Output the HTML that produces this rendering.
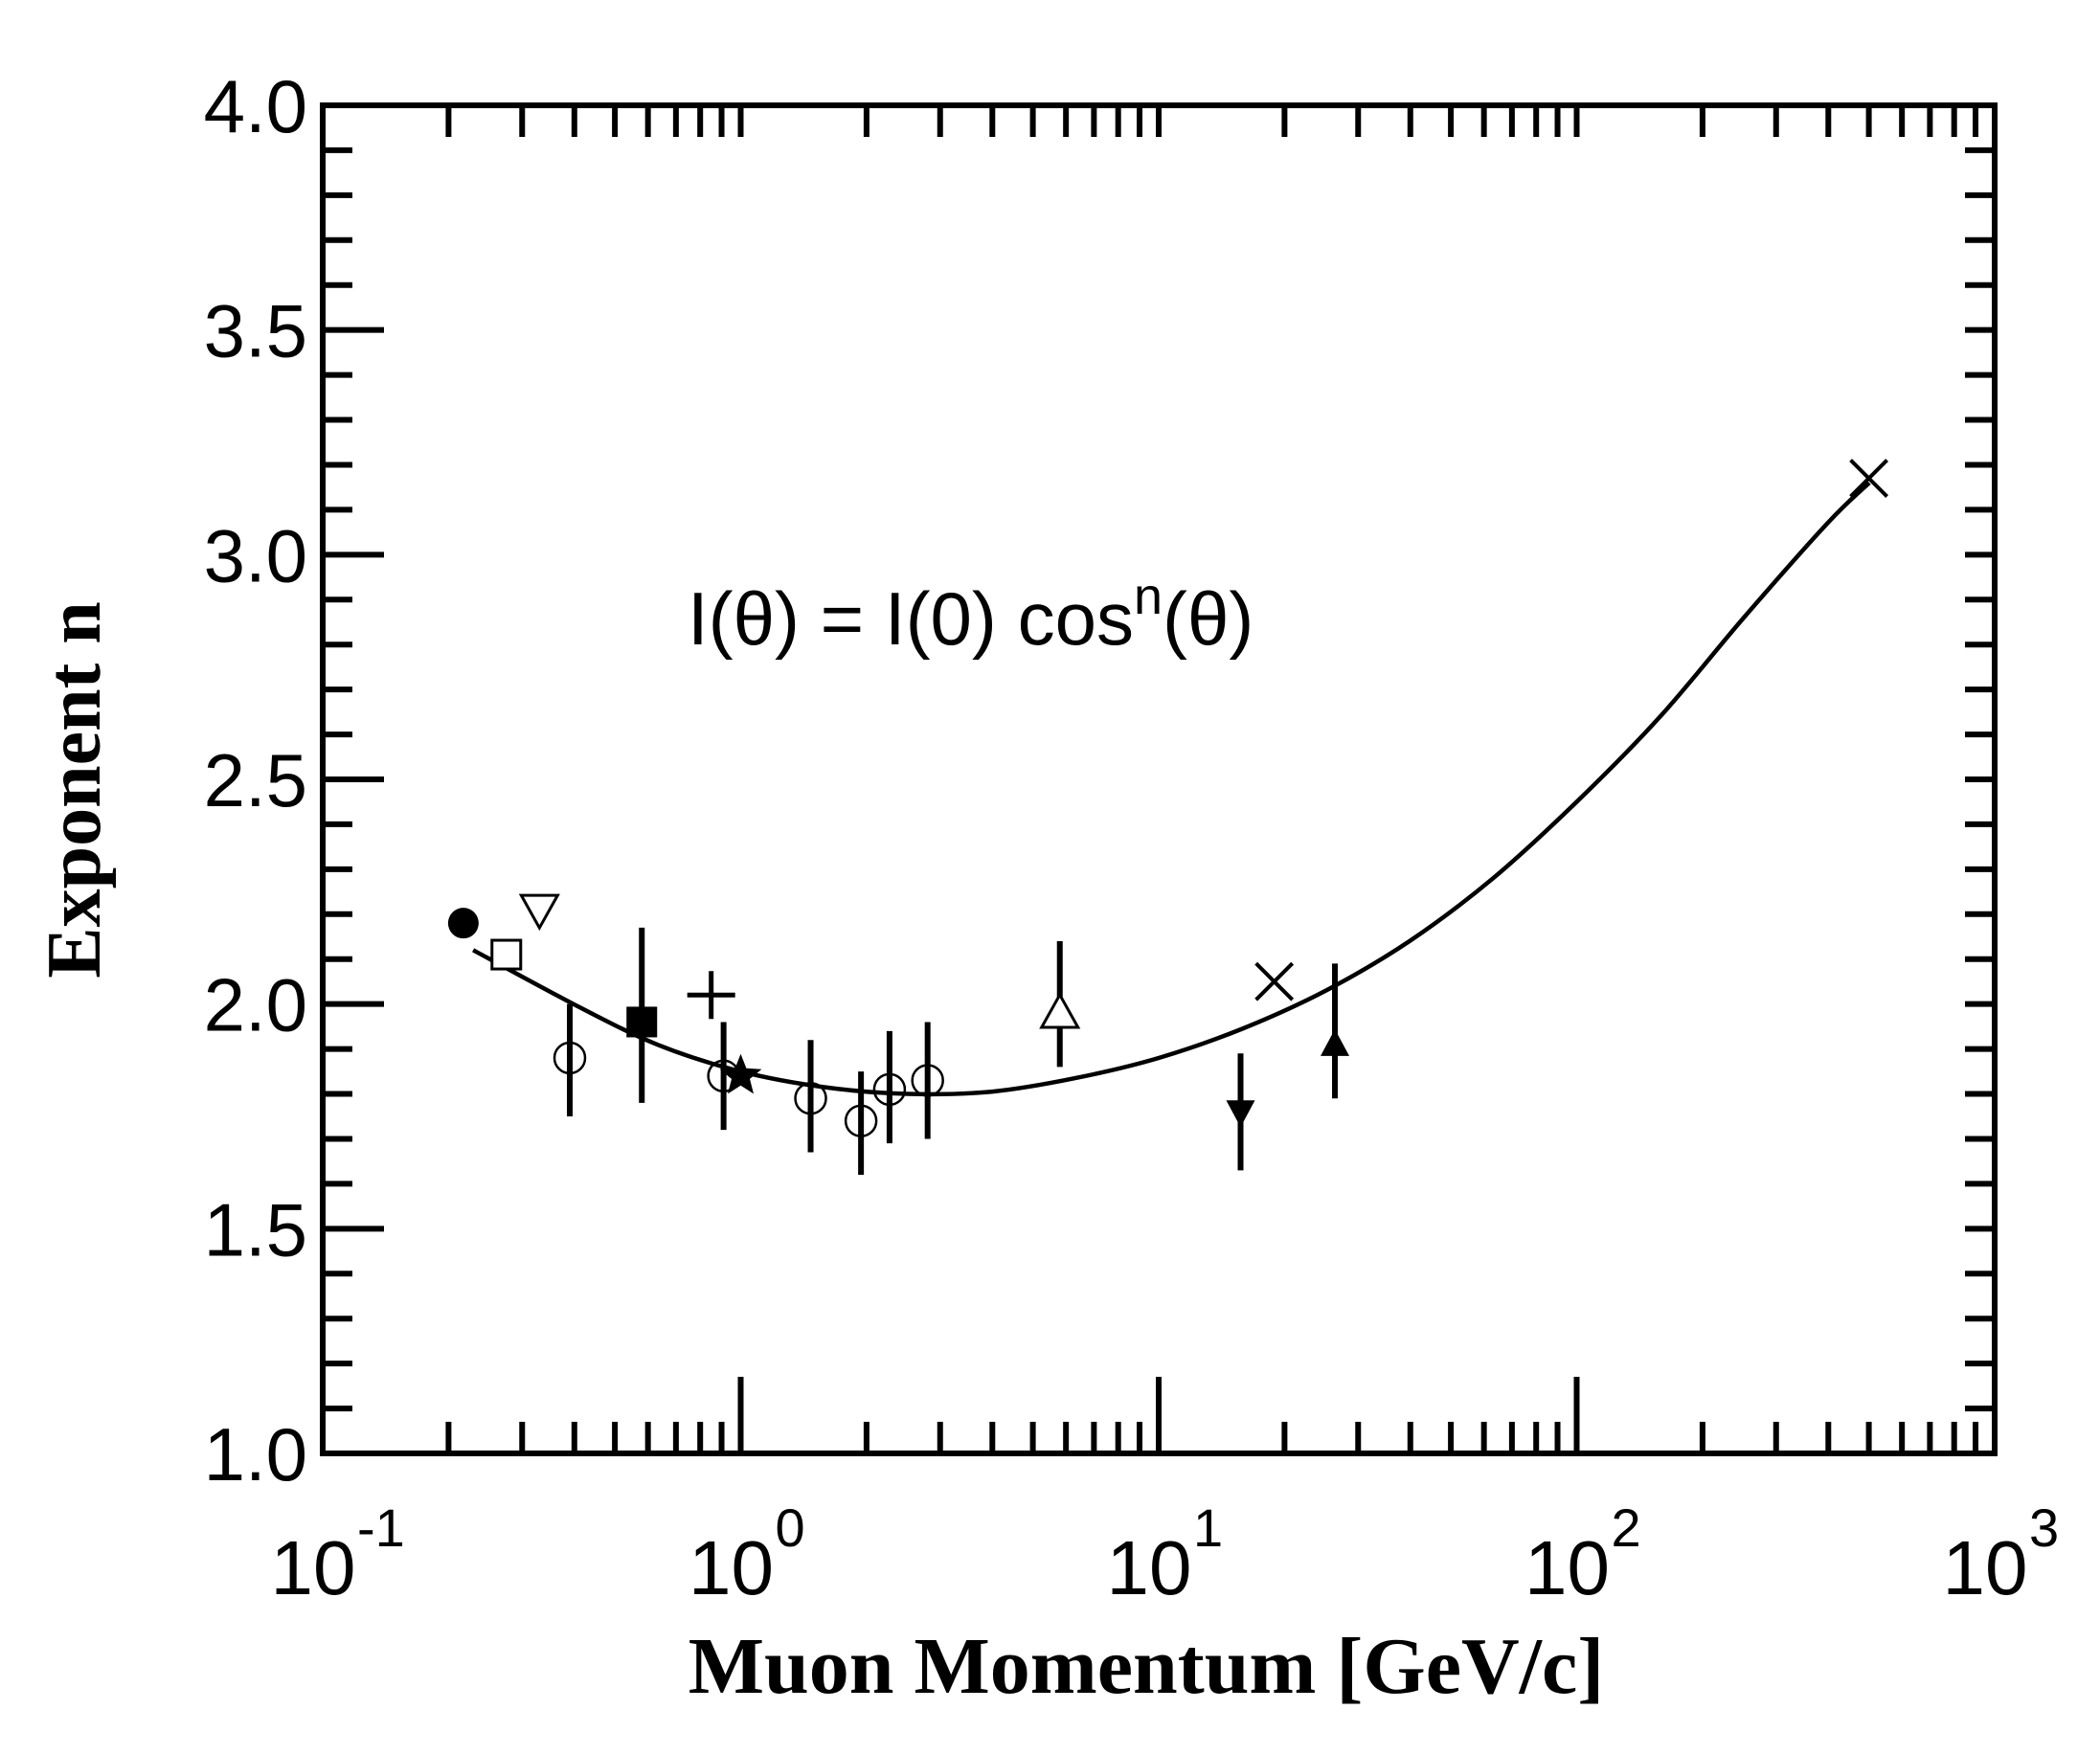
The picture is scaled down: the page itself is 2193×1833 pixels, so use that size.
<!DOCTYPE html>
<html><head><meta charset="utf-8"><style>
html,body{margin:0;padding:0;background:#fff;}
svg{display:block;}
text{fill:#000;}
</style></head><body>
<svg id="chart" width="2193" height="1833" viewBox="0 0 2193 1833" xmlns="http://www.w3.org/2000/svg">
<g id="axes"></g>
<g id="curve"></g>
<g id="marks"></g>
<text x="718" y="673" font-family="Liberation Sans, sans-serif" font-size="78">I(θ) = I(0) cos<tspan dy="-32" font-size="54">n</tspan><tspan dy="32">(θ)</tspan></text>
<text x="1197" y="1768" text-anchor="middle" font-family="Liberation Serif, serif" font-weight="bold" font-size="84">Muon Momentum [GeV/c]</text>
<text transform="translate(104,825) rotate(-90)" text-anchor="middle" font-family="Liberation Serif, serif" font-weight="bold" font-size="80">Exponent  n</text>
</svg>
<script>
const yTicks = [1.0, 1.5, 2.0, 2.5, 3.0, 3.5, 4.0];
const yTickLabels = ["1.0","1.5","2.0","2.5","3.0","3.5","4.0"];
const xDecades = [-1, 0, 1, 2, 3];
const curveLogP = [-0.64,-0.4,-0.2,0,0.2,0.4,0.6,0.8,1.0,1.2,1.4,1.6,1.8,2.0,2.2,2.4,2.6,2.7];
const curveN = [2.12,2.00,1.91,1.85,1.815,1.80,1.805,1.835,1.88,1.945,2.03,2.14,2.28,2.45,2.64,2.86,3.07,3.16];
const ptType = ["fcircle","osquare","otridown","ocircle","fsquare","plus","ocircle","star","ocircle","ocircle","ocircle","ocircle","otriup","ftridown","cross","ftriup","cross"];
const ptP = [0.217,0.275,0.33,0.39,0.58,0.85,0.91,1.0,1.47,1.94,2.27,2.8,5.8,15.7,18.9,26.4,500];
const ptN = [2.18,2.11,2.21,1.88,1.96,2.02,1.84,1.84,1.79,1.74,1.81,1.83,1.98,1.76,2.05,1.91,3.17];
const errLo = [null,null,null,1.75,1.78,null,1.72,null,1.67,1.62,1.69,1.70,1.86,1.63,null,1.79,null];
const errHi = [null,null,null,2.0,2.17,null,1.96,null,1.92,1.85,1.94,1.96,2.14,1.89,null,2.09,null];

const L=337,R=2083,T=110,B=1518;
const XL=lp=>L+(lp+1)*(R-L)/4;
const X=p=>XL(Math.log10(p));
const Y=n=>T+(4-n)*(B-T)/3;
const NS="http://www.w3.org/2000/svg";
function mk(tag,attrs,parent){const e=document.createElementNS(NS,tag);for(const k in attrs)e.setAttribute(k,attrs[k]);parent.appendChild(e);return e;}
const axes=document.getElementById('axes');
const frame=mk('rect',{x:L,y:T,width:R-L,height:B-T,fill:'none',stroke:'#000','stroke-width':6},axes);


for(let v=11;v<40;v++){
  const y=Y(v/10), major=(v%5===0), len=major?64:31;
  const t1=mk('line',{x1:L,y1:y,x2:L+len,y2:y,stroke:'#000','stroke-width':6},axes);
  
  
  const t2=mk('line',{x1:R,y1:y,x2:R-31,y2:y,stroke:'#000','stroke-width':6},axes);
  
  
}
yTicks.forEach((n,i)=>{
  const t=mk('text',{x:L-16,y:Y(n)+28,'text-anchor':'end','font-family':'Liberation Sans, sans-serif','font-size':78},axes);
  t.textContent=yTickLabels[i];
  
  
});
xDecades.forEach((d,i)=>{
  if(i<xDecades.length-1){
    for(let m=1;m<=9;m++){
      if(i===0&&m===1) continue;
      const x=X(m*Math.pow(10,d));
      const a=mk('line',{x1:x,y1:B,x2:x,y2:B-(m===1?80:33),stroke:'#000','stroke-width':6},axes);
      
      
      const b=mk('line',{x1:x,y1:T,x2:x,y2:T+33,stroke:'#000','stroke-width':6},axes);
      
      
    }
  }
  const x=X(Math.pow(10,d));
  const t=mk('text',{x:x-10,y:1665,'text-anchor':'middle','font-family':'Liberation Sans, sans-serif','font-size':80},axes);
  t.textContent='10';
  
  
  const s=mk('text',{x:x+36,y:1615,'text-anchor':'start','font-family':'Liberation Sans, sans-serif','font-size':56},axes);
  s.textContent=String(d);
  
  
});
const cp=curveLogP.map((lp,i)=>[XL(lp),Y(curveN[i])]);
let dstr='M'+cp[0][0].toFixed(1)+','+cp[0][1].toFixed(1);
for(let i=0;i<cp.length-1;i++){
  const p0=cp[Math.max(0,i-1)],p1=cp[i],p2=cp[i+1],p3=cp[Math.min(cp.length-1,i+2)];
  const c1=[p1[0]+(p2[0]-p0[0])/6,p1[1]+(p2[1]-p0[1])/6];
  const c2=[p2[0]-(p3[0]-p1[0])/6,p2[1]-(p3[1]-p1[1])/6];
  dstr+=`C${c1[0].toFixed(1)},${c1[1].toFixed(1)} ${c2[0].toFixed(1)},${c2[1].toFixed(1)} ${p2[0].toFixed(1)},${p2[1].toFixed(1)}`;
}
const cv=mk('path',{d:dstr,fill:'none',stroke:'#000','stroke-width':4.5,'stroke-linejoin':'round'},document.getElementById('curve'));


const marks=document.getElementById('marks');
ptP.forEach((p,i)=>{
  const x=X(p), y=Y(ptN[i]), g=mk('g',{},marks);
  
  
  if(errLo[i]!==null){
    mk('line',{x1:x,y1:Y(errLo[i]),x2:x,y2:Y(errHi[i]),stroke:'#000','stroke-width':6},g);
  }
  const r=16, t=ptType[i];
  if(t==='fcircle') mk('circle',{cx:x,cy:y,r:r,fill:'#000'},g);
  else if(t==='ocircle') mk('circle',{cx:x,cy:y,r:r,fill:'none',stroke:'#000','stroke-width':2.5},g);
  else if(t==='osquare') mk('rect',{x:x-15,y:y-15,width:30,height:30,fill:'#fff',stroke:'#000','stroke-width':3},g);
  else if(t==='fsquare') mk('rect',{x:x-16,y:y-16,width:32,height:32,fill:'#000'},g);
  else if(t==='otridown') mk('polygon',{points:`${x-19},${y-15} ${x+19},${y-15} ${x},${y+19}`,fill:'#fff',stroke:'#000','stroke-width':3},g);
  else if(t==='otriup') mk('polygon',{points:`${x-19},${y+15} ${x+19},${y+15} ${x},${y-19}`,fill:'#fff',stroke:'#000','stroke-width':3},g);
  else if(t==='ftridown') mk('polygon',{points:`${x-15},${y-12} ${x+15},${y-12} ${x},${y+16}`,fill:'#000'},g);
  else if(t==='ftriup') mk('polygon',{points:`${x-15},${y+12} ${x+15},${y+12} ${x},${y-16}`,fill:'#000'},g);
  else if(t==='plus'){mk('line',{x1:x-25,y1:y,x2:x+25,y2:y,stroke:'#000','stroke-width':5},g);mk('line',{x1:x,y1:y-25,x2:x,y2:y+25,stroke:'#000','stroke-width':5},g);}
  else if(t==='cross'){mk('line',{x1:x-19,y1:y-19,x2:x+19,y2:y+19,stroke:'#000','stroke-width':4},g);mk('line',{x1:x-19,y1:y+19,x2:x+19,y2:y-19,stroke:'#000','stroke-width':4},g);}
  else if(t==='star'){let pts='';for(let k=0;k<10;k++){const a=-Math.PI/2+k*Math.PI/5, rr=k%2?10:23;pts+=(x+rr*Math.cos(a)).toFixed(1)+','+(y+rr*Math.sin(a)).toFixed(1)+' ';}mk('polygon',{points:pts,fill:'#000'},g);}
});
</script>
</body></html>
